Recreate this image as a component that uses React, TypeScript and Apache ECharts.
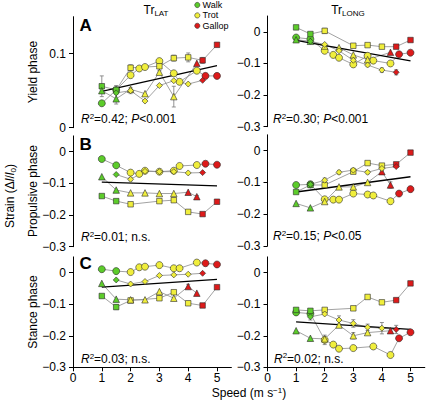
import React, { useEffect, useRef } from "react";
import * as echarts from "echarts";

// ---- Data ----
const SPEEDS_CIRCLE = [1, 1.5, 2, 2.3, 2.5, 3, 3.5, 3.7, 4.3, 4.6, 5];
const GAIT_CIRCLE = ["W", "W", "T", "T", "T", "T", "T", "T", "T", "G", "G"];
const SPEEDS_SQUARE = [1, 1.5, 2, 3, 3.5, 4, 4.5, 5];
const GAIT_SQUARE = ["W", "W", "T", "T", "T", "T", "G", "G"];
const SPEEDS_TRIANGLE = [1, 1.5, 2, 2.5, 3, 3.5, 4, 4.3];
const GAIT_TRIANGLE = ["W", "W", "T", "T", "T", "T", "G", "G"];
const SPEEDS_DIAMOND = [1.5, 2, 2.5, 3, 3.5, 4, 4.5];
const GAIT_DIAMOND = ["W", "T", "T", "T", "T", "T", "G"];

// Panel A (yield phase)
const A_LAT_CIRCLE = [0.033, 0.051, 0.071, 0.08, 0.082, 0.09, 0.0735, 0.062, 0.077, 0.07, 0.07];
const A_LAT_SQUARE = [0.056, 0.051, 0.081, 0.083, 0.094, 0.095, 0.091, 0.112];
const A_LAT_TRIANGLE = [0.05, 0.039, 0.052, 0.046, 0.075, 0.042, null, 0.087];
const A_LAT_DIAMOND = [0.047, 0.05, 0.036, 0.057, 0.0635, 0.059, 0.064];
const A_LONG_CIRCLE = [-0.018, -0.023, -0.06, -0.073, -0.082, -0.103, -0.076, -0.091, -0.1, -0.071, -0.066];
const A_LONG_SQUARE = [0.014, -0.007, 0.003, -0.044, -0.042, -0.047, -0.047, -0.026];
const A_LONG_TRIANGLE = [-0.025, -0.03, -0.045, -0.05, -0.073, -0.088, null, -0.065];
const A_LONG_DIAMOND = [-0.03, -0.04, -0.06, -0.09, -0.105, -0.121, -0.128];

// Panel B (propulsive phase)
const B_LAT_CIRCLE = [-0.023, -0.043, -0.066, -0.07, -0.06, -0.063, -0.06, -0.045, -0.042, -0.038, -0.041];
const B_LAT_SQUARE = [-0.14, -0.156, -0.166, -0.156, -0.153, -0.19, -0.197, -0.158];
const B_LAT_TRIANGLE = [-0.079, -0.121, -0.13, -0.13, -0.132, -0.132, -0.128, -0.142];
const B_LAT_DIAMOND = [-0.072, -0.087, -0.062, -0.063, -0.063, -0.067, -0.066];
const B_LONG_CIRCLE = [-0.108, -0.106, -0.153, -0.154, -0.154, -0.135, -0.138, -0.141, -0.159, -0.135, -0.121];
const B_LONG_SQUARE = [-0.13, -0.108, -0.108, -0.066, -0.039, -0.047, -0.043, -0.006];
const B_LONG_TRIANGLE = [-0.166, -0.18, -0.16, -0.114, -0.114, -0.1, -0.066, -0.108];
const B_LONG_DIAMOND = [-0.106, -0.093, -0.068, -0.061, -0.068, -0.056, -0.05];

// Panel C (stance phase)
const C_LAT_CIRCLE = [0.011, 0.005, 0.002, 0.017, 0.019, 0.024, 0.014, 0.014, 0.032, 0.03, 0.026];
const C_LAT_SQUARE = [-0.074, -0.109, -0.088, -0.081, -0.062, -0.097, -0.104, -0.046];
const C_LAT_TRIANGLE = [-0.034, -0.084, -0.086, -0.086, -0.06, -0.081, -0.044, -0.065];
const C_LAT_DIAMOND = [-0.023, -0.036, -0.028, -0.009, -0.007, -0.005, -0.002];
const C_LONG_CIRCLE = [-0.126, -0.13, -0.213, -0.228, -0.241, -0.239, null, -0.234, -0.261, -0.208, -0.189];
const C_LONG_SQUARE = [-0.118, -0.121, -0.118, -0.113, -0.077, -0.094, -0.087, -0.034];
const C_LONG_TRIANGLE = [-0.184, -0.208, -0.21, -0.166, -0.2, -0.19, null, -0.184];
const C_LONG_DIAMOND = [-0.14, -0.131, -0.15, -0.161, -0.173, -0.176, -0.18];

// Regression lines (value at speed 1 and speed 5)
const FIT_X = [1, 5];
const A_LAT_FIT = [0.049, 0.084];
const A_LONG_FIT = [-0.027, -0.092];
const B_LAT_FIT = [-0.096, -0.108];
const B_LONG_FIT = [-0.13, -0.082];
const C_LAT_FIT = [-0.046, -0.021];
const C_LONG_FIT = [-0.156, -0.18];

// Error bars: [speed, value, half-range]
const A_LAT_ERR = [[1, 0.056, 0.014], [1.5, 0.051, 0.006], [1.5, 0.039, 0.007], [2, 0.081, 0.004], [2, 0.05, 0.004], [3, 0.083, 0.006], [3.5, 0.094, 0.004], [3.5, 0.042, 0.014], [4, 0.095, 0.006], [4.5, 0.091, 0.004]];
const A_LONG_ERR = [[1, -0.018, 0.006], [1.5, -0.023, 0.007], [2, 0.003, 0.008], [3.5, -0.105, 0.005], [4, -0.121, 0.007], [4.5, -0.128, 0.008]];
const B_LAT_ERR = [[2, -0.087, 0.005], [4.3, -0.142, 0.004]];
const B_LONG_ERR = [[1.5, -0.106, 0.01], [2, -0.093, 0.007], [2.5, -0.068, 0.006], [3, -0.061, 0.006], [3.5, -0.068, 0.005], [4, -0.056, 0.007], [4.3, -0.108, 0.01]];
const C_LAT_ERR = [[1.5, -0.109, 0.008], [2, -0.088, 0.006], [3.5, -0.062, 0.005], [4, -0.044, 0.007]];
const C_LONG_ERR = [[1.5, -0.14, 0.01], [2, -0.213, 0.015], [2.5, -0.15, 0.013], [3, -0.161, 0.012], [3, -0.2, 0.01], [3.5, -0.173, 0.01], [4, -0.176, 0.018], [4.5, -0.18, 0.013]];

const STATS = ["0.42; P<0.001", "0.30; P<0.001", "0.01; n.s.", "0.15; P<0.05", "0.03; n.s.", "0.02; n.s."];
const X_TICKS = [0, 1, 2, 3, 4, 5];
const Y_TICKS_A_LAT = [0, 0.1];
const Y_TICKS = [-0.3, -0.2, -0.1, 0];
const ROW_NAMES = ["Yield phase", "Propulsive phase", "Stance phase"];
const PANEL_LETTERS = ["A", "B", "C"];
const LEGEND = [["Walk", "W"], ["Trot", "T"], ["Gallop", "G"]];

// ---- Styling ----
const FONT = "Liberation Sans";
const GAIT_COLOR: Record<string, string> = { W: "#5ccc2a", T: "#f0ee3c", G: "#dd1a1a" };

const SHAPES = [
  { symbol: "circle", size: 7, speeds: SPEEDS_CIRCLE, gaits: GAIT_CIRCLE },
  { symbol: "rect", size: 5.5, speeds: SPEEDS_SQUARE, gaits: GAIT_SQUARE },
  { symbol: "triangle", size: 6.5, speeds: SPEEDS_TRIANGLE, gaits: GAIT_TRIANGLE },
  { symbol: "diamond", size: 6, speeds: SPEEDS_DIAMOND, gaits: GAIT_DIAMOND },
];

const PANELS = [
  { vals: [A_LAT_CIRCLE, A_LAT_SQUARE, A_LAT_TRIANGLE, A_LAT_DIAMOND], fit: A_LAT_FIT, err: A_LAT_ERR },
  { vals: [A_LONG_CIRCLE, A_LONG_SQUARE, A_LONG_TRIANGLE, A_LONG_DIAMOND], fit: A_LONG_FIT, err: A_LONG_ERR },
  { vals: [B_LAT_CIRCLE, B_LAT_SQUARE, B_LAT_TRIANGLE, B_LAT_DIAMOND], fit: B_LAT_FIT, err: B_LAT_ERR },
  { vals: [B_LONG_CIRCLE, B_LONG_SQUARE, B_LONG_TRIANGLE, B_LONG_DIAMOND], fit: B_LONG_FIT, err: B_LONG_ERR },
  { vals: [C_LAT_CIRCLE, C_LAT_SQUARE, C_LAT_TRIANGLE, C_LAT_DIAMOND], fit: C_LAT_FIT, err: C_LAT_ERR },
  { vals: [C_LONG_CIRCLE, C_LONG_SQUARE, C_LONG_TRIANGLE, C_LONG_DIAMOND], fit: C_LONG_FIT, err: C_LONG_ERR },
];

// grid geometry (px)
const COL_LEFT = [73, 267.5];
const COL_WIDTH = [158.4, 157.3];
const ROW_TOP = [[16.7, 16], [135.9, 134.8], [256.9, 256.9]];
const ROW_HEIGHT = [[111, 110.7], [110.8, 111.2], [110.4, 110.4]];
const STAT_POS = [[81, 119], [273, 119], [81, 237], [273, 236], [81, 359], [274, 358.5]];

function fmtY(v: number) {
  if (v === 0) return "0";
  const s = String(Math.round(v * 100) / 100);
  return s.replace("-", "\u2212");
}

function buildOption() {
  const grid: any[] = [];
  const xAxis: any[] = [];
  const yAxis: any[] = [];
  const series: any[] = [];

  PANELS.forEach((panel, p) => {
    const r = Math.floor(p / 2);
    const c = p % 2;
    grid.push({ left: COL_LEFT[c], top: ROW_TOP[r][c], width: COL_WIDTH[c], height: ROW_HEIGHT[r][c], containLabel: false });
    const isBottom = r === 2;
    xAxis.push({
      type: "value", gridIndex: p, min: 0, max: 5.5, show: isBottom, position: "bottom",
      axisLine: { show: true, onZero: false, lineStyle: { color: "#000", width: 1 } },
      axisTick: { show: true, length: 4, customValues: X_TICKS, lineStyle: { color: "#000" } },
      axisLabel: { customValues: X_TICKS, color: "#000", fontSize: 12, fontFamily: FONT, margin: 5 },
      splitLine: { show: false },
    });
    const isALat = p === 0;
    const yt = isALat ? Y_TICKS_A_LAT : Y_TICKS;
    yAxis.push({
      type: "value", gridIndex: p, min: isALat ? 0 : -0.3, max: isALat ? 0.15 : 0.05, position: "left",
      axisLine: { show: true, onZero: false, lineStyle: { color: "#000", width: 1 } },
      axisTick: { show: true, length: 4, customValues: yt, lineStyle: { color: "#000" } },
      axisLabel: { customValues: yt, color: "#000", fontSize: 12, fontFamily: FONT, margin: 7, formatter: (v: number) => fmtY(v) },
      splitLine: { show: false },
    });

    SHAPES.forEach((shape, s) => {
      const vals = panel.vals[s];
      const pts: any[] = [];
      shape.speeds.forEach((x, i) => {
        const v = vals[i];
        if (v === null || v === undefined) return;
        pts.push({ value: [x, v], itemStyle: { color: GAIT_COLOR[shape.gaits[i]] } });
      });
      series.push({
        type: "line", xAxisIndex: p, yAxisIndex: p, data: pts.map((d) => d.value),
        symbol: "none", z: 2, silent: true,
        lineStyle: { color: "#8a8a8a", width: 0.8 },
      });
      series.push({
        type: "scatter", xAxisIndex: p, yAxisIndex: p, data: pts,
        symbol: shape.symbol, symbolSize: shape.size, z: 5, silent: true,
        itemStyle: { borderColor: "#2a2a2a", borderWidth: 0.6, opacity: 1 },
      });
    });

    series.push({
      type: "line", xAxisIndex: p, yAxisIndex: p, symbol: "none", z: 3, silent: true,
      data: FIT_X.map((x, i) => [x, panel.fit[i]]),
      lineStyle: { color: "#000", width: 1.3 },
    });

    series.push({
      type: "custom", xAxisIndex: p, yAxisIndex: p, z: 4, silent: true,
      data: panel.err,
      renderItem: (params: any, api: any) => {
        const x = api.value(0);
        const y = api.value(1);
        const e = api.value(2);
        const top = api.coord([x, y + e]);
        const bot = api.coord([x, y - e]);
        const cw = 2;
        const st = { stroke: "#777", lineWidth: 0.8 };
        return {
          type: "group",
          children: [
            { type: "line", shape: { x1: top[0], y1: top[1], x2: bot[0], y2: bot[1] }, style: st },
            { type: "line", shape: { x1: top[0] - cw, y1: top[1], x2: top[0] + cw, y2: top[1] }, style: st },
            { type: "line", shape: { x1: bot[0] - cw, y1: bot[1], x2: bot[0] + cw, y2: bot[1] }, style: st },
          ],
        };
      },
    });
  });

  const txt = (text: string, x: number, y: number, size: number, extra: any = {}) => ({
    type: "text", x, y, silent: true,
    style: { text, fill: "#000", fontSize: size, fontFamily: FONT, align: "left", verticalAlign: "middle", ...extra },
  });

  const graphic: any[] = [];
  // column titles
  const titleRich = {
    n: { fontSize: 12, fontFamily: FONT, fill: "#000", color: "#000", lineHeight: 14 },
    s: { fontSize: 8, fontFamily: FONT, fill: "#000", color: "#000", lineHeight: 8, verticalAlign: "bottom" },
  };
  graphic.push({ type: "text", x: 156, y: 10, silent: true, style: { text: "{n|Tr}{s|LAT}", rich: titleRich, align: "center", verticalAlign: "middle" } });
  graphic.push({ type: "text", x: 348, y: 10, silent: true, style: { text: "{n|Tr}{s|LONG}", rich: titleRich, align: "center", verticalAlign: "middle" } });

  // legend
  LEGEND.forEach(([label, g], i) => {
    const y = 5 + i * 10.4;
    graphic.push({ type: "circle", silent: true, shape: { cx: 197.3, cy: y, r: 2.6 }, style: { fill: GAIT_COLOR[g], stroke: "#333", lineWidth: 0.6 } });
    graphic.push(txt(label, 202.5, y, 9));
  });

  // panel letters
  const letterY = [25, 144, 263.5];
  PANEL_LETTERS.forEach((l, i) => {
    graphic.push(txt(l, 79.5, letterY[i], 17, { fontWeight: "bold" }));
  });

  // row names
  const rowCenter = [72, 191, 312];
  ROW_NAMES.forEach((n, i) => {
    graphic.push({ type: "text", x: 33, y: rowCenter[i], rotation: Math.PI / 2, silent: true,
      style: { text: n, fill: "#000", fontSize: 12, fontFamily: FONT, align: "center", verticalAlign: "middle" } });
  });

  // Strain label
  const strainRich = {
    n: { fontSize: 12, fontFamily: FONT, fill: "#000", color: "#000", lineHeight: 14 },
    i: { fontSize: 12, fontFamily: FONT, fontStyle: "italic", fill: "#000", color: "#000", lineHeight: 14 },
    s: { fontSize: 8, fontFamily: FONT, fill: "#000", color: "#000", lineHeight: 8, verticalAlign: "bottom" },
  };
  graphic.push({ type: "text", x: 10, y: 196, rotation: Math.PI / 2, silent: true,
    style: { text: "{n|Strain (Δ}{i|l}{n|/}{i|l}{s|0}{n|)}", rich: strainRich, align: "center", verticalAlign: "middle" } });

  // stats
  const statRich = {
    n: { fontSize: 12, fontFamily: FONT, fill: "#000", color: "#000", lineHeight: 14 },
    i: { fontSize: 12, fontFamily: FONT, fontStyle: "italic", fill: "#000", color: "#000", lineHeight: 14 },
    sup: { fontSize: 8, fontFamily: FONT, fill: "#000", color: "#000", lineHeight: 8, verticalAlign: "top" },
  };
  STATS.forEach((s, i) => {
    const [rv, rest] = s.split("; ");
    const restTxt = rest.startsWith("P") ? "{i|P}{n|" + rest.slice(1) + "}" : "{n|" + rest + "}";
    graphic.push({ type: "text", x: STAT_POS[i][0], y: STAT_POS[i][1], silent: true,
      style: { text: "{i|R}{sup|2}{n|=" + rv + "; }" + restTxt, rich: statRich, align: "left", verticalAlign: "middle" } });
  });

  // x axis name
  const xRich = {
    n: { fontSize: 12, fontFamily: FONT, fill: "#000", color: "#000", lineHeight: 14 },
    sup: { fontSize: 8, fontFamily: FONT, fill: "#000", color: "#000", lineHeight: 8, verticalAlign: "top" },
  };
  graphic.push({ type: "text", x: 249, y: 393, silent: true,
    style: { text: "{n|Speed (m s}{sup|\u22121}{n|)}", rich: xRich, align: "center", verticalAlign: "middle" } });

  return { animation: false, backgroundColor: "#fff", grid, xAxis, yAxis, series, graphic };
}

export default function App() {
  const ref = useRef<HTMLDivElement>(null);
  useEffect(() => {
    if (!ref.current) return;
    const chart = echarts.init(ref.current, null, { renderer: "svg" });
    chart.setOption(buildOption() as any);
    return () => chart.dispose();
  }, []);
  return <div ref={ref} style={{ position: "fixed", left: 0, top: 0, width: 426, height: 400 }} />;
}
